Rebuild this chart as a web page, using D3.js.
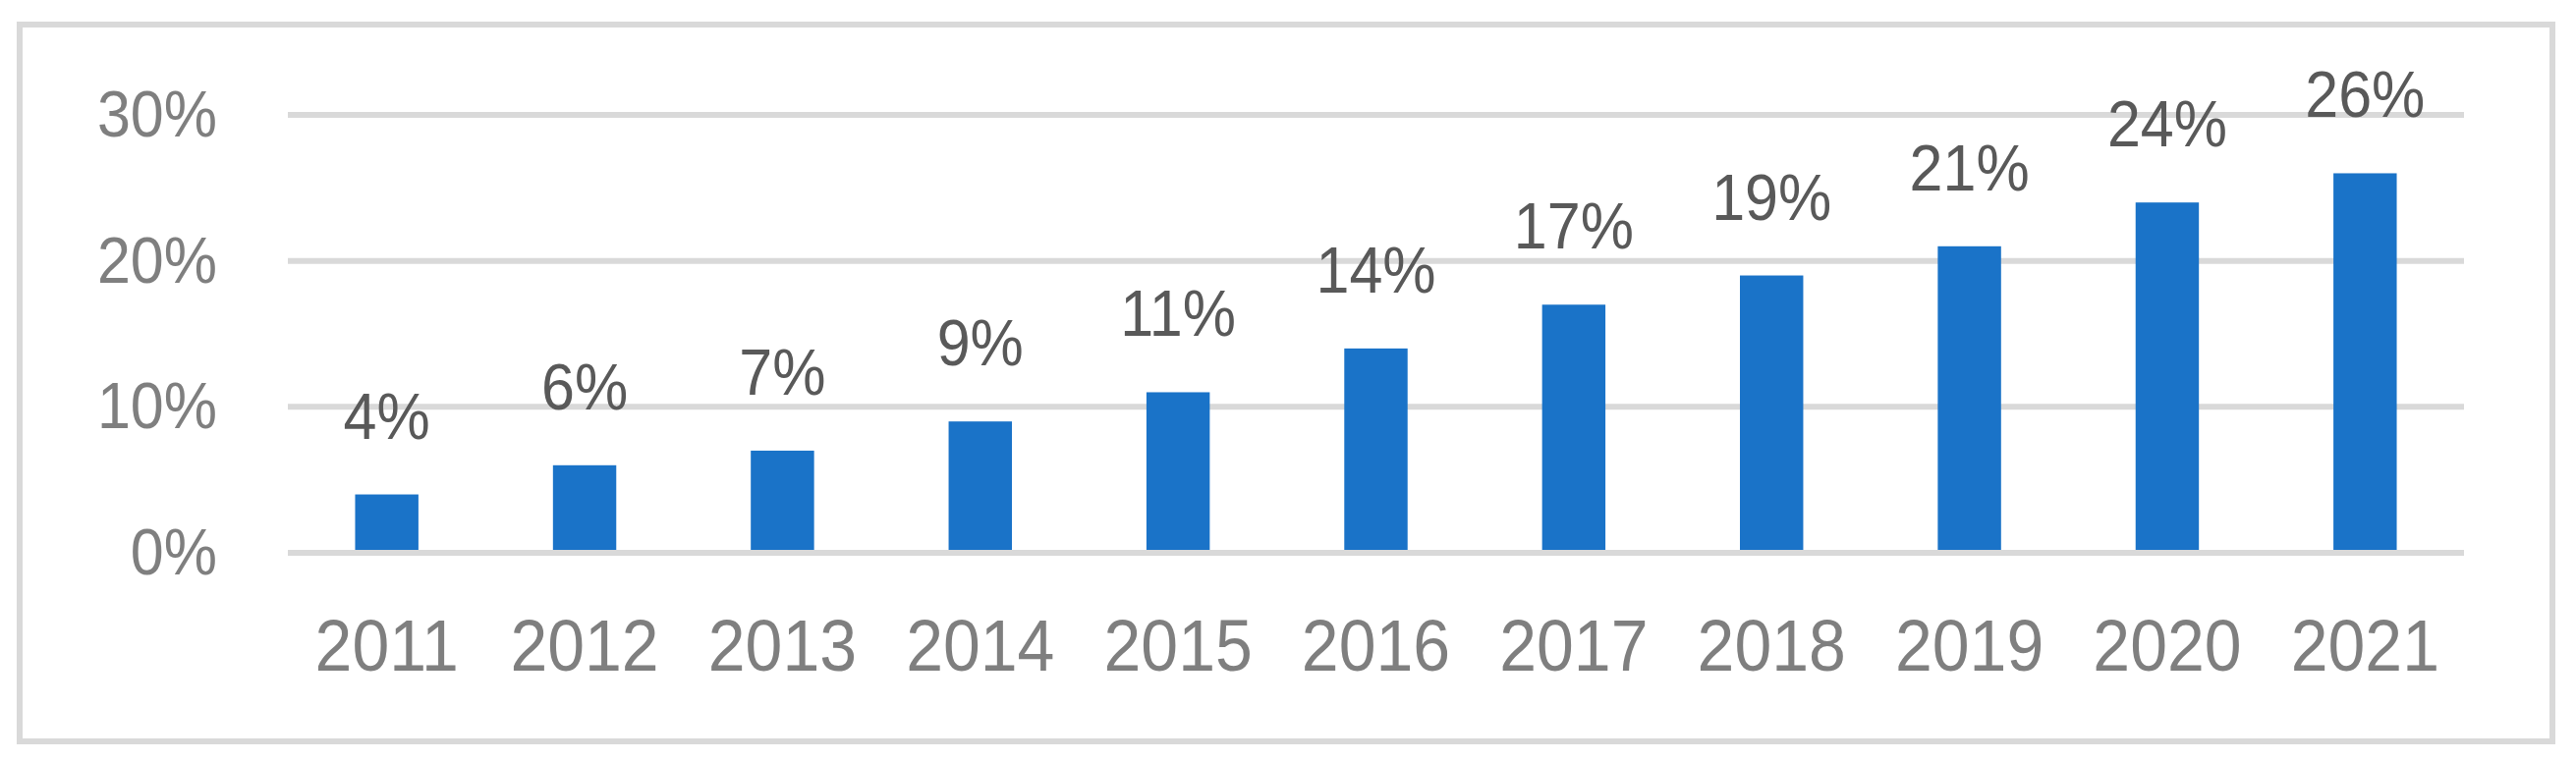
<!DOCTYPE html>
<html><head><meta charset="utf-8">
<script src="https://cdn.jsdelivr.net/npm/d3@7/dist/d3.min.js"></script>
<style>body{margin:0;background:#fff}svg{display:block}text{font-family:"Liberation Sans",Arial,sans-serif}</style>
</head><body><svg id="c" width="2622" height="775"></svg>
<script>
const years = ["2011","2012","2013","2014","2015","2016","2017","2018","2019","2020","2021"];
const values = [4,6,7,9,11,14,17,19,21,24,26];
const yTicks = [0,10,20,30];

const svg = d3.select("#c");
svg.append("rect").attr("x",20).attr("y",25).attr("width",2578).attr("height",730)
  .attr("fill","#fff").attr("stroke","#d9d9d9").attr("stroke-width",6);

const x = d3.scaleBand().domain(years).range([293,2508]).paddingInner(0.68).paddingOuter(0.34);
const y = d3.scaleLinear().domain([0,30]).range([563,117]);
const sy = 1.1;

const g = svg.append("g");
g.selectAll(".grid").data(yTicks).enter().append("line")
  .attr("x1",293).attr("x2",2508).attr("y1",d=>y(d)).attr("y2",d=>y(d))
  .attr("stroke","#d9d9d9").attr("stroke-width",6);

g.selectAll(".yl").data(yTicks).enter().append("text")
  .attr("transform",d=>`translate(221,${y(d)+22}) scale(1,${sy})`).attr("text-anchor","end")
  .attr("font-size",61).attr("fill","#7f7f7f").text(d=>d+"%");

g.selectAll(".bar").data(values).enter().append("rect")
  .attr("x",(d,i)=>x(years[i])).attr("width",x.bandwidth())
  .attr("y",d=>y(d)).attr("height",d=>y(0)-y(d)-3).attr("fill","#1a73c8");

g.selectAll(".dl").data(values).enter().append("text")
  .attr("transform",(d,i)=>`translate(${x(years[i])+x.bandwidth()/2},${y(d)-57}) scale(1,${sy})`)
  .attr("text-anchor","middle").attr("font-size",61).attr("fill","#595959").text(d=>d+"%");

g.selectAll(".xl").data(years).enter().append("text")
  .attr("transform",d=>`translate(${x(d)+x.bandwidth()/2},683) scale(1,${sy})`)
  .attr("text-anchor","middle").attr("font-size",68).attr("fill","#7f7f7f").text(d=>d);
</script></body></html>
